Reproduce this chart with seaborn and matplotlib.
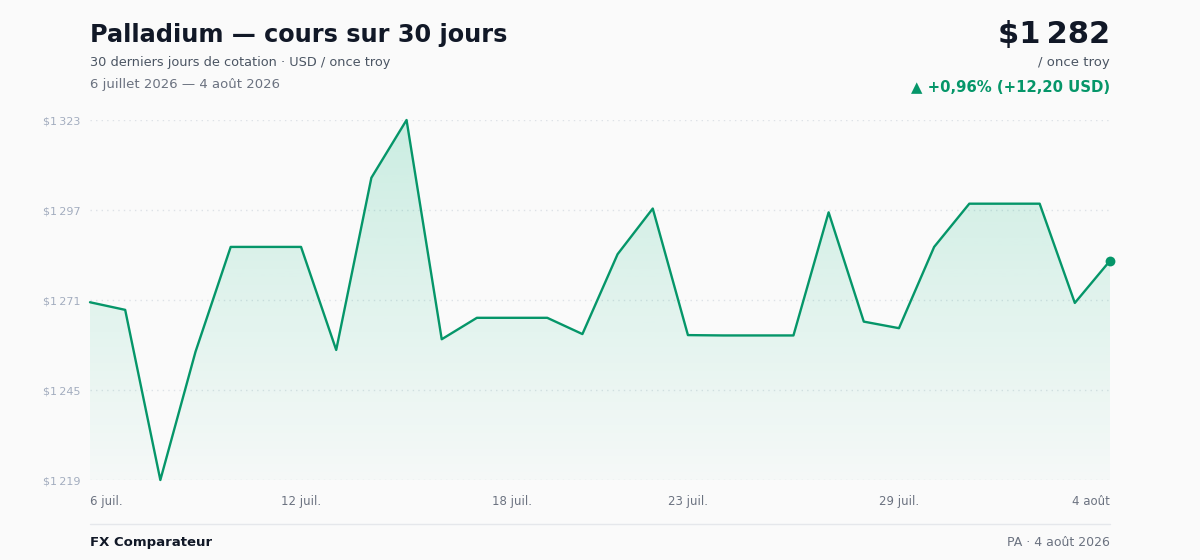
import numpy as np
import matplotlib
matplotlib.use("Agg")
import matplotlib.pyplot as plt
import seaborn as sns
from matplotlib.colors import LinearSegmentedColormap
from matplotlib.lines import Line2D

# données ======================================================
prices = [1270.0, 1267.8, 1218.6, 1255.7, 1286.0, 1286.0, 1286.0, 1256.2,
          1306.0, 1322.7, 1259.3, 1265.5, 1265.5, 1265.5, 1260.8, 1283.9,
          1297.1, 1260.5, 1260.4, 1260.4, 1260.4, 1296.0, 1264.4, 1262.5,
          1286.0, 1298.5, 1298.5, 1298.5, 1269.8, 1282.0]
tick_pos = [0, 6, 12, 17, 23, 29]
tick_labels = ["6 juil.", "12 juil.", "18 juil.", "23 juil.", "29 juil.", "4 août"]

title = "Palladium — cours sur 30 jours"
subtitle = "30 derniers jours de cotation · USD / once troy"
period = "6 juillet 2026 — 4 août 2026"
last_price = "$1\u202f282"
change_txt = "▲ +0,96% (+12,20 USD)"

# style ========================================================
sns.set_theme(style="white")
plt.rcParams["font.family"] = ["DejaVu Sans"]

green = "#059669"
bg = "#fafafa"
W, H = 1200, 560


def fx(x):
    return x / W


def fy(y):
    return 1 - y / H


fig = plt.figure(figsize=(12, 5.6), dpi=100, facecolor=bg)
ax = fig.add_axes([fx(90), fy(480), fx(1020), 360 / H])
ax.set_facecolor(bg)

days = np.arange(len(prices))
ymin, ymax = min(prices), max(prices)

# courbe
sns.lineplot(x=days, y=prices, ax=ax, color=green, linewidth=1.7, clip_on=False, zorder=3)
ax.scatter([days[-1]], [prices[-1]], s=50, color=green, zorder=4, clip_on=False, linewidths=0)

# remplissage en dégradé
poly = ax.fill_between(days, prices, ymin, color="none")
cmap = LinearSegmentedColormap.from_list(
    "g", [(16/255, 185/255, 129/255, 0.02), (16/255, 185/255, 129/255, 0.2)])
grad = np.linspace(0, 1, 256).reshape(-1, 1)
im = ax.imshow(grad, extent=[days[0], days[-1], ymin, ymax], origin="lower",
               aspect="auto", cmap=cmap, zorder=1)
im.set_clip_path(poly.get_paths()[0], transform=ax.transData)

ax.set_xlim(days[0], days[-1])
ax.set_ylim(ymin, ymax)

# axes
yt = np.linspace(ymin, ymax, 5)
ax.set_yticks(yt)
ax.set_yticklabels([f"${v:,.0f}".replace(",", "\u202f") for v in yt])
ax.set_xticks(tick_pos)
ax.set_xticklabels(tick_labels)
xl = ax.get_xticklabels()
xl[0].set_ha("left")
xl[-1].set_ha("right")
ax.tick_params(axis="y", length=0, pad=7, labelsize=8, labelcolor="#a3adbf")
ax.tick_params(axis="x", length=0, pad=11, labelsize=8.5, labelcolor="#6b7280")
ax.grid(axis="y", linestyle=(0, (1, 3)), color="#dde1e6", linewidth=1)
ax.grid(axis="x", visible=False)
for s in ax.spines.values():
    s.set_visible(False)
ax.set_xlabel("")
ax.set_ylabel("")

# en-tête
fig.text(fx(90), fy(42), title, fontsize=17.3, fontweight="bold", color="#111827", va="baseline")
fig.text(fx(90), fy(66), subtitle, fontsize=9.3, color="#4b5563", va="baseline")
fig.text(fx(90), fy(88), period, fontsize=9.5, color="#6b7280", va="baseline")
fig.text(fx(1110), fy(43), last_price, fontsize=22, fontweight="bold", color="#111827",
         ha="right", va="baseline")
fig.text(fx(1110), fy(66), "/ once troy", fontsize=9.5, color="#4b5563", ha="right", va="baseline")
fig.text(fx(1110), fy(92), change_txt, fontsize=10.7, fontweight="bold", color=green,
         ha="right", va="baseline")

# pied
fig.add_artist(Line2D([fx(90), fx(1110)], [fy(524), fy(524)], color="#e5e7eb", linewidth=1))
fig.text(fx(90), fy(546), "FX Comparateur", fontsize=9.5, fontweight="bold", color="#111827",
         va="baseline")
fig.text(fx(1110), fy(546), "PA · 4 août 2026", fontsize=9, color="#6b7280", ha="right",
         va="baseline")

fig.savefig("out.png", dpi=100, facecolor=bg)
